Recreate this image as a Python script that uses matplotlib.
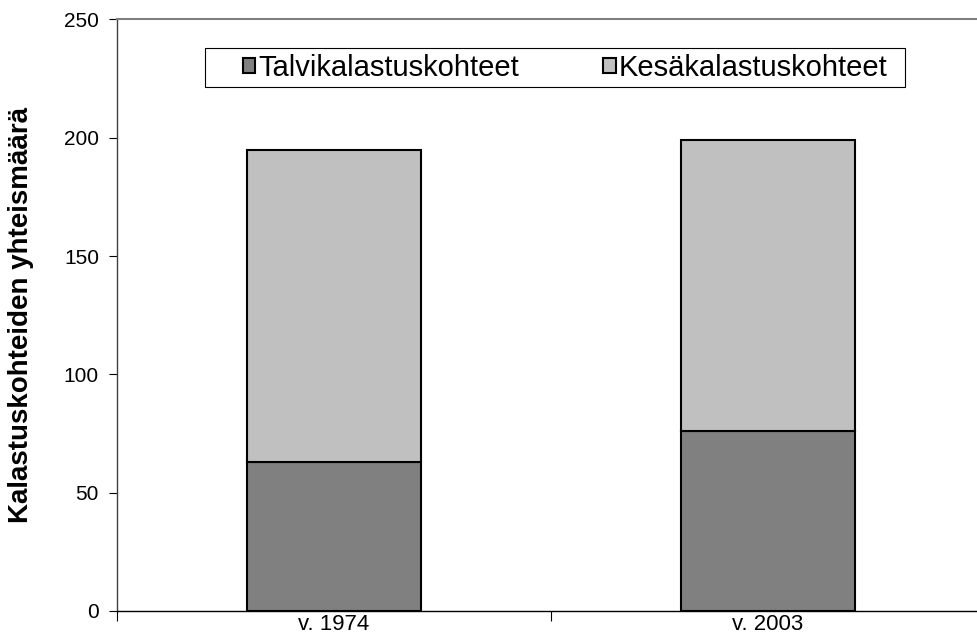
import matplotlib
matplotlib.use("Agg")
import numpy as np
from matplotlib import pyplot as plt
from matplotlib.patches import Rectangle

plt.rcParams['font.family'] = ['Liberation Sans', 'DejaVu Sans']

years = ['v. 1974', 'v. 2003']
talvi = [63, 76]     # Talvikalastuskohteet
kesa = [132, 123]    # Kesäkalastuskohteet
yticks = [0, 50, 100, 150, 200, 250]

W, H = 977, 636
fig = plt.figure(figsize=(W / 100, H / 100), dpi=100)
# plot area in pixels: left 117, right 985 (runs off the image), top 19.5, bottom 611
ax = fig.add_axes([117 / W, (H - 611) / H, 868 / W, (611 - 19.5) / H])

x = np.arange(len(years))
ax.bar(x, talvi, width=0.4, color='#808080', edgecolor='black', linewidth=1.5,
       label='Talvikalastuskohteet', zorder=3)
ax.bar(x, kesa, width=0.4, bottom=talvi, color='#c0c0c0', edgecolor='black',
       linewidth=1.5, label='Kesäkalastuskohteet', zorder=3)

ax.set_xlim(-0.5, 1.5)
ax.set_ylim(0, 250)
ax.set_yticks(yticks)
ax.set_xticks(x)
ax.set_xticklabels(years)
ax.set_xticks([-0.5, 0.5, 1.5], minor=True)
ax.tick_params(axis='x', which='major', length=0, pad=2, labelsize=16)
ax.tick_params(axis='x', which='minor', length=7, width=0.8, direction='out')
ax.tick_params(axis='y', length=6, width=0.8, direction='out', labelsize=15, pad=7)

ax.spines['right'].set_visible(False)
ax.spines['top'].set_color('#808080')
ax.spines['top'].set_linewidth(1.5)
ax.spines['left'].set_color('#404040')
ax.spines['left'].set_linewidth(1.0)
ax.spines['bottom'].set_color('black')
ax.spines['bottom'].set_linewidth(1.0)

ax.set_ylabel('Kalastuskohteiden yhteismäärä', fontsize=20, fontweight='bold')
ax.yaxis.set_label_coords((34 - 117) / 868, 0.5)

# legend box like the Excel one: frame drawn separately, entries inside
ax.add_patch(Rectangle((205 / W, (H - 87) / H), 700 / W, 39 / H,
                       transform=fig.transFigure, facecolor='white',
                       edgecolor='black', linewidth=0.8, zorder=4, clip_on=False))
leg = ax.legend(loc='center', bbox_to_anchor=(565 / W, (H - 67.5) / H),
                bbox_transform=fig.transFigure, ncol=2, fontsize=21,
                frameon=False, handlelength=0.42, handleheight=0.42,
                handletextpad=0.1, columnspacing=2.9, borderpad=0,
                borderaxespad=0)
leg.set_zorder(5)

fig.savefig('out.png', dpi=100)
